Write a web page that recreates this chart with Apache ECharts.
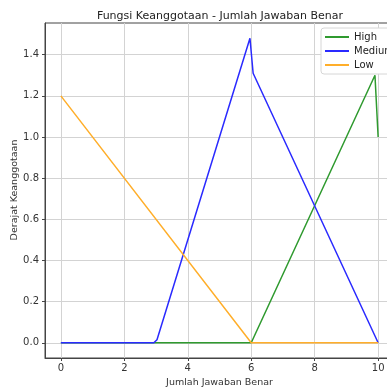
<!DOCTYPE html>
<html>
<head>
<meta charset="utf-8">
<script src="https://cdn.jsdelivr.net/npm/echarts@6/dist/echarts.min.js"></script>
<style>
html, body { margin: 0; padding: 0; background: #fff; }
#chart { width: 387px; height: 389px; }
</style>
</head>
<body>
<div id="chart"></div>
<script>
// data: [jumlah jawaban benar, derajat keanggotaan]
const xTicks = [0, 2, 4, 6, 8, 10]
const yTicks = [0, 0.2, 0.4, 0.6, 0.8, 1.0, 1.2, 1.4]
const seriesNames = ['High', 'Medium', 'Low']
const highPts = [[0, 0], [6, 0], [9.9, 1.3], [10, 1.0]]
const mediumPts = [[0, 0], [2.93, 0], [3.03, 0.015], [5.96, 1.48], [6.06, 1.31], [10, 0]]
const lowPts = [[0, 1.2], [6, 0], [10, 0]]
const colors = ['#2f9a2f', '#2a2aff', '#ffae2a']

let chart = echarts.init(document.getElementById('chart'))
let font = 'DejaVu Sans'
let option = {
    animation: false,
    textStyle: { fontFamily: font },
    title: {
        text: 'Fungsi Keanggotaan - Jumlah Jawaban Benar',
        left: 215,
        top: 6,
        textAlign: 'center',
        textStyle: { fontSize: 11, fontWeight: 'normal', color: '#222', fontFamily: font }
    },
    // y axis name drawn as text so it sits where the reference has it
    graphic: [{
        type: 'text',
        x: 15,
        y: 190,
        rotation: Math.PI / 2,
        style: {
            text: 'Derajat Keanggotaan',
            fontSize: 9.5,
            fontFamily: font,
            fill: '#333',
            align: 'center',
            verticalAlign: 'middle'
        }
    }],
    legend: {
        data: seriesNames,
        orient: 'vertical',
        left: 321,
        top: 28,
        icon: 'rect',
        itemWidth: 24,
        itemHeight: 2,
        itemGap: 4,
        padding: [4, 8, 4, 4],
        backgroundColor: '#fff',
        borderColor: '#d6d6d6',
        borderWidth: 1,
        borderRadius: 3,
        textStyle: { fontSize: 10, color: '#222', fontFamily: font }
    },
    grid: {
        left: 45,
        top: 23,
        right: -7,
        bottom: 31,
        outerBoundsMode: 'none',
        containLabel: false,
        show: true,
        borderColor: '#444',
        borderWidth: 1
    },
    xAxis: {
        type: 'value',
        min: -0.5,
        max: 10.5,
        name: 'Jumlah Jawaban Benar',
        nameLocation: 'middle',
        nameGap: 20,
        nameTextStyle: { fontSize: 9.5, color: '#333' },
        axisLine: { show: true, onZero: false, lineStyle: { color: '#444' } },
        axisTick: { show: true, length: 3, customValues: xTicks, lineStyle: { color: '#444' } },
        axisLabel: { customValues: xTicks, fontSize: 10, color: '#333', margin: 5 },
        splitLine: { show: true, lineStyle: { color: '#d3d3d3', width: 1 } }
    },
    yAxis: {
        type: 'value',
        min: -0.074,
        max: 1.554,
        axisLine: { show: true, onZero: false, lineStyle: { color: '#444' } },
        axisTick: { show: true, length: 3, customValues: yTicks, lineStyle: { color: '#444' } },
        axisLabel: {
            customValues: yTicks,
            fontSize: 10,
            color: '#333',
            margin: 6,
            formatter: function (v) { return v.toFixed(1) }
        },
        splitLine: { show: true, lineStyle: { color: '#d3d3d3', width: 1 } }
    },
    series: [
        { name: 'High', type: 'line', data: highPts, symbol: 'none', color: colors[0], lineStyle: { width: 1.5 } },
        { name: 'Medium', type: 'line', data: mediumPts, symbol: 'none', color: colors[1], lineStyle: { width: 1.5 } },
        { name: 'Low', type: 'line', data: lowPts, symbol: 'none', color: colors[2], lineStyle: { width: 1.5 } }
    ]
}
chart.setOption(option)
</script>
</body>
</html>
